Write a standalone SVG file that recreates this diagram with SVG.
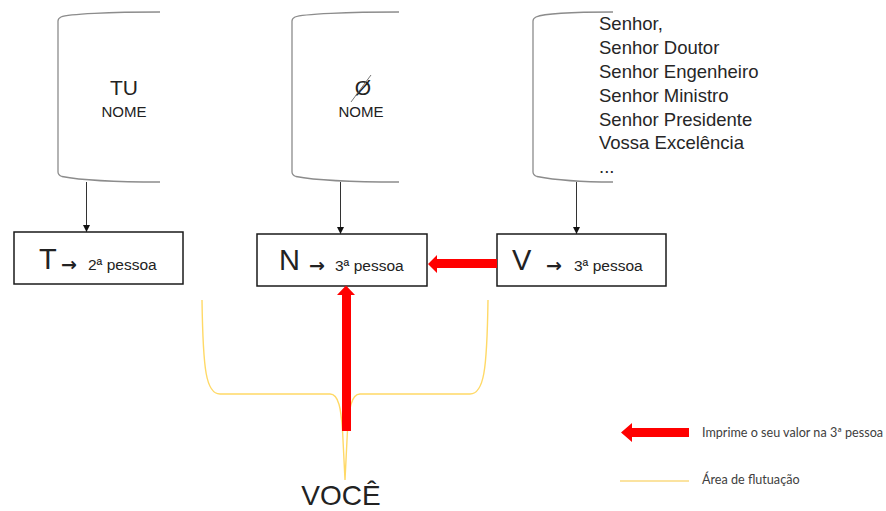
<svg xmlns="http://www.w3.org/2000/svg" width="886" height="511" viewBox="0 0 886 511">
<style>
.doc{fill:none;stroke:#8c8c8c;stroke-width:1.3}
.box{fill:#fff;stroke:#1a1a1a;stroke-width:1.5}
.t{font-family:"Liberation Sans",Arial,sans-serif;fill:#222}
.big{font-size:29px}
.small{font-size:15.5px}
.arr{font-family:"DejaVu Sans",sans-serif;font-size:19px;font-weight:bold;fill:#222}
.lst{font-family:"Liberation Sans",Arial,sans-serif;font-size:18.5px;fill:#262626}
.conn{stroke:#333;stroke-width:1;fill:none}
.red{fill:#ff0000}
.brace{fill:none;stroke:#ffd966;stroke-width:1.4}
.leg{font-family:Lato,"Liberation Sans",sans-serif;font-size:12.6px;fill:#404040}
</style>
<defs>
<marker id="ah" viewBox="0 0 8 8" refX="8" refY="4" markerWidth="7" markerHeight="7" markerUnits="userSpaceOnUse" orient="auto">
<path d="M0,0 L8,4 L0,8 Z" fill="#111"/>
</marker>
</defs>

<g id="doc-tu">
<path class="doc" d="M160,12 C110,12 68,14 61,17 Q58,18.5 58,21 L58,172 Q58,175 62,176.5 C80,180 120,182 160,182"/>
<text class="t" x="124" y="95" font-size="21" text-anchor="middle">TU</text>
<text class="t" x="124" y="117" font-size="15" text-anchor="middle">NOME</text>
</g>

<g id="doc-zero">
<path class="doc" d="M399,12 C349,12 302,14 295,17 Q292,18.5 292,21 L292,172 Q292,175 296,176.5 C314,180 359,182 399,182"/>
<text class="t" x="363" y="95" font-size="21" text-anchor="middle">Ø</text>
<line x1="351" y1="102" x2="371" y2="75" stroke="#666" stroke-width="0.9"/>
<text class="t" x="361" y="117" font-size="15" text-anchor="middle">NOME</text>
</g>

<g id="doc-v">
<path class="doc" d="M613,12 C573,12 543,14 536,17 Q533,18.5 533,21 L533,172 Q533,175 537,176.5 C555,180 580,182 613,182"/>
<text class="lst" x="599" y="30">Senhor,</text>
<text class="lst" x="599" y="54">Senhor Doutor</text>
<text class="lst" x="599" y="78">Senhor Engenheiro</text>
<text class="lst" x="599" y="102">Senhor Ministro</text>
<text class="lst" x="599" y="126">Senhor Presidente</text>
<text class="lst" x="599" y="149">Vossa Excelência</text>
<text class="lst" x="599" y="173">...</text>
</g>

<g id="box-t">
<rect class="box" x="14" y="232" width="169" height="52"/>
<text class="t big" x="39" y="269">T</text>
<text class="arr" x="61" y="271">→</text>
<text class="t small" x="88" y="270">2ª pessoa</text>
</g>

<g id="box-n">
<rect class="box" x="257" y="234" width="170" height="52"/>
<text class="t big" x="279" y="270">N</text>
<text class="arr" x="309" y="272">→</text>
<text class="t small" x="335" y="271">3ª pessoa</text>
</g>

<g id="box-v">
<rect class="box" x="497" y="234" width="169" height="52"/>
<text class="t big" x="512" y="270">V</text>
<text class="arr" x="546" y="272">→</text>
<text class="t small" x="574" y="271">3ª pessoa</text>
</g>

<g id="area">
<path class="brace" d="M202,300 C203,370 206,394 220,394 L330,394 C339,394 341,410 342.5,430 L345,480 L347.5,430 C349,410 351,394 360,394 L470,394 C484,394 487,370 488,300"/>
</g>

<g id="voce">
<text class="t" x="341" y="505" font-size="28" text-anchor="middle" fill="#111">VOCÊ</text>
</g>

<g id="connectors">
<line class="conn" x1="86.5" y1="182" x2="86.5" y2="232" marker-end="url(#ah)"/>
<line class="conn" x1="340.5" y1="182" x2="340.5" y2="234" marker-end="url(#ah)"/>
<line class="conn" x1="576.5" y1="182" x2="576.5" y2="234" marker-end="url(#ah)"/>
<path class="red" d="M497,259 L437,259 L437,255 L428,264 L437,273 L437,268 L497,268 Z"/>
<path class="red" d="M342,431 L342,295 L337,295 L346,285.5 L355,295 L351,295 L351,431 Z"/>
</g>

<g id="legend">
<path class="red" d="M689,428 L632,428 L632,423 L621,432.5 L632,442 L632,437 L689,437 Z"/>
<text class="leg" x="702" y="437">Imprime o seu valor na 3ª pessoa</text>
<line x1="620" y1="481" x2="689" y2="481" stroke="#fbe3a0" stroke-width="2"/>
<text class="leg" x="702" y="484">Área de flutuação</text>
</g>
</svg>
